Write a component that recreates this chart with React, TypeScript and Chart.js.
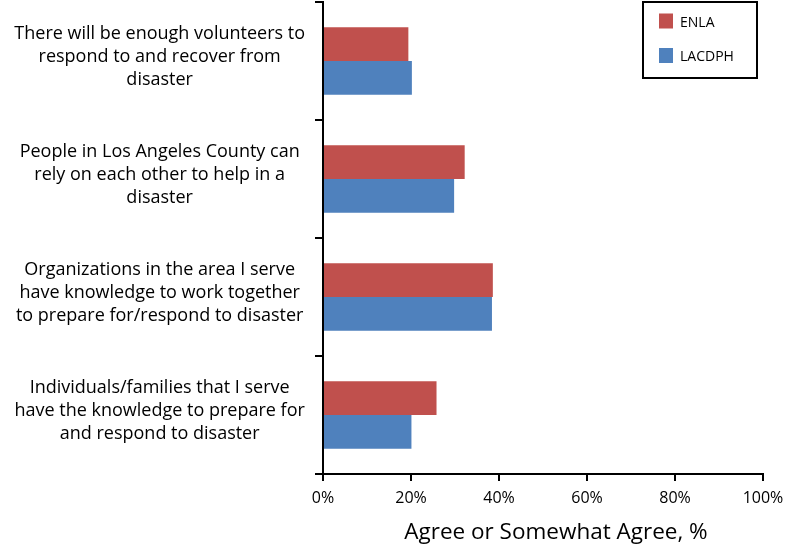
import React, { useEffect, useRef } from "react";
import { Chart, registerables } from "chart.js";

Chart.register(...registerables);

const categories: string[][] = [
  ["There will be enough volunteers to", "respond to and recover from", "disaster"],
  ["People in Los Angeles County can", "rely on each other to help in a", "disaster"],
  ["Organizations in the area I serve", "have knowledge to work together", "to prepare for/respond to disaster"],
  ["Individuals/families that I serve", "have the knowledge to prepare for", "and respond to disaster"],
];
const enla = [19.4, 32.2, 38.6, 25.8];
const lacdph = [20.2, 29.8, 38.4, 20.1];
const seriesNames = ["ENLA", "LACDPH"];
const seriesColors = ["#C0504D", "#4F81BD"];
const xTitle = "Agree or Somewhat Agree, %";

const FONT = "'Open Sans', 'Liberation Sans', sans-serif";

const boxLegend = {
  id: "boxLegend",
  afterDraw(chart: any) {
    const ctx = chart.ctx;
    const x0 = 643, y0 = 2, w = 114, h = 76;
    ctx.save();
    ctx.strokeStyle = "#000";
    ctx.lineWidth = 2;
    ctx.strokeRect(x0, y0, w, h);
    ctx.font = `14px ${FONT}`;
    ctx.textBaseline = "middle";
    ctx.textAlign = "left";
    chart.data.datasets.forEach((ds: any, i: number) => {
      const yc = 21 + i * 34.5;
      ctx.fillStyle = ds.backgroundColor;
      ctx.fillRect(659, yc - 7.5, 14, 15);
      ctx.fillStyle = "#000";
      ctx.fillText(ds.label, 680, yc + 2);
    });
    // x-axis title
    const xs = chart.scales.x;
    ctx.font = `22.5px ${FONT}`;
    ctx.textAlign = "center";
    ctx.fillText(xTitle, (xs.left + xs.right) / 2 + 13, 533);
    ctx.restore();
  },
};

export default function App() {
  const ref = useRef<HTMLCanvasElement>(null);
  useEffect(() => {
    if (!ref.current) return;
    const chart = new Chart(ref.current, {
      type: "bar",
      data: {
        labels: categories,
        datasets: [
          { label: seriesNames[0], data: enla, backgroundColor: seriesColors[0] },
          { label: seriesNames[1], data: lacdph, backgroundColor: seriesColors[1] },
        ],
      },
      options: {
        indexAxis: "y",
        animation: false,
        responsive: true,
        maintainAspectRatio: false,
        layout: { padding: { top: 2, right: 24, left: 0, bottom: 0 } },
        datasets: { bar: { categoryPercentage: 0.57, barPercentage: 1.0 } },
        plugins: { legend: { display: false }, tooltip: { enabled: false } },
        scales: {
          x: {
            min: 0,
            max: 100,
            afterFit: (s: any) => { s.height = 73; s.paddingLeft = 0; s.paddingRight = 0; },
            ticks: {
              stepSize: 20,
              color: "#000",
              padding: 8,
              font: { family: FONT, size: 16 },
              callback: (v: any) => v + "%",
            },
            grid: { drawOnChartArea: false, color: "#000", lineWidth: 2, tickLength: 7 },
            border: { color: "#000", width: 2 },
          },
          y: {
            afterFit: (s: any) => { s.width = 323; s.paddingTop = 0; s.paddingBottom = 0; },
            ticks: {
              color: "#000",
              crossAlign: "center",
              padding: 10,
              labelOffset: -4,
              font: { family: FONT, size: 18, lineHeight: 1.28 },
            },
            grid: { drawOnChartArea: false, color: "#000", lineWidth: 2, tickLength: 8, offset: true },
            border: { color: "#000", width: 2 },
          },
        },
      },
      plugins: [boxLegend],
    });
    return () => chart.destroy();
  }, []);
  return (
    <div style={{ position: "fixed", left: 0, top: 0, width: 787, height: 547, background: "#fff" }}>
      <canvas ref={ref} />
    </div>
  );
}
